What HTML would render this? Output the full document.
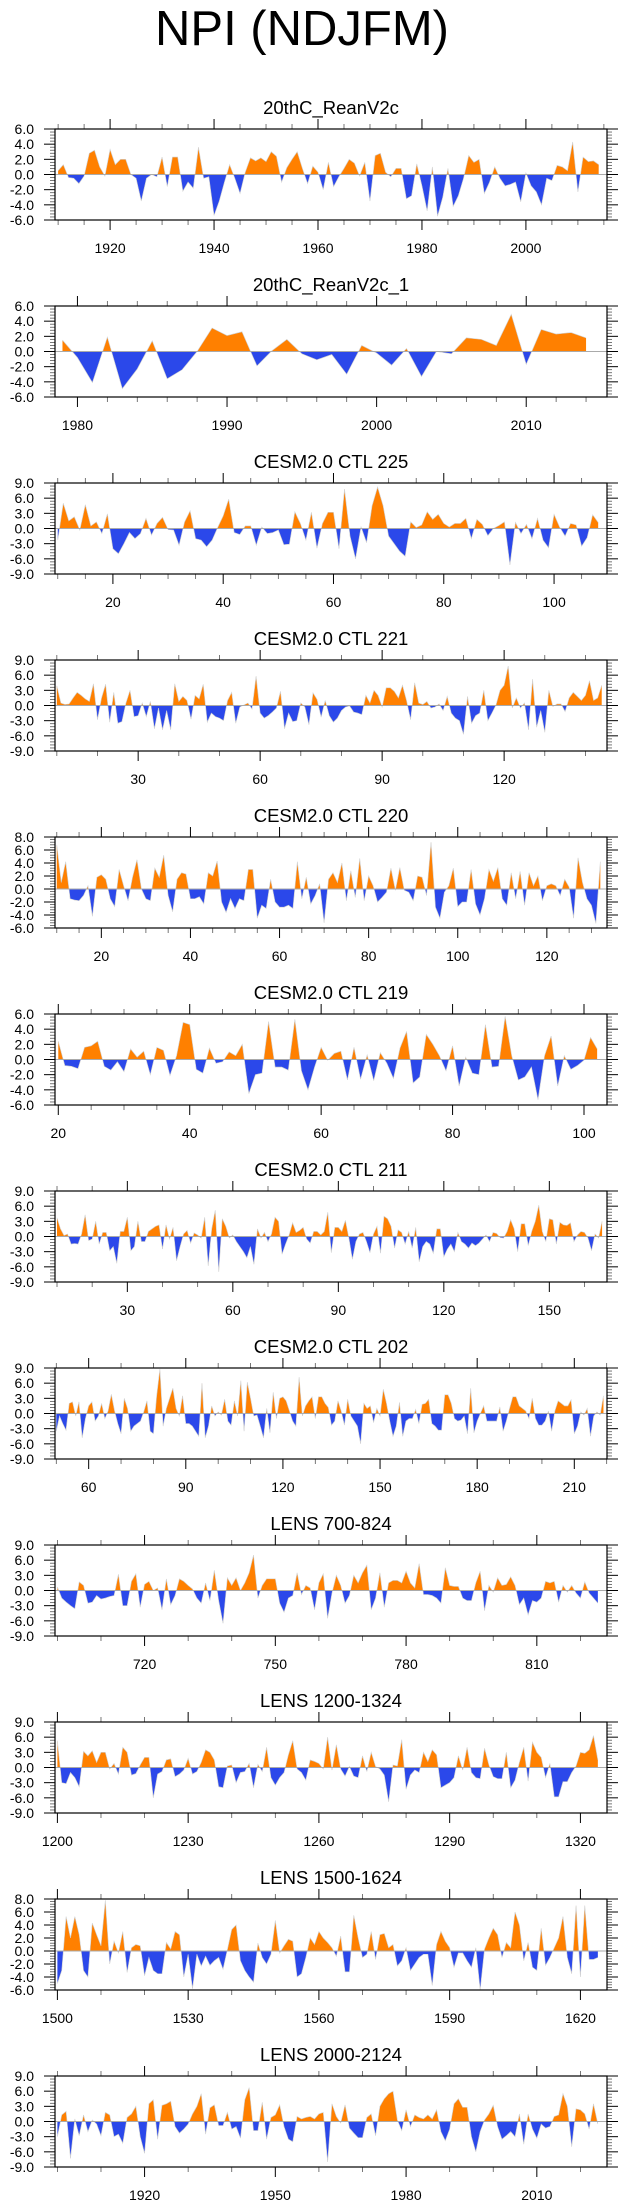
<!DOCTYPE html>
<html><head><meta charset="utf-8"><title>NPI (NDJFM)</title>
<style>
html,body{margin:0;padding:0;background:#fff;}
svg{display:block;font-family:"Liberation Sans",Arial,sans-serif;}
</style></head>
<body>
<svg id="chart" xmlns="http://www.w3.org/2000/svg" width="623" height="2209" viewBox="0 0 623 2209">
<text x="302" y="45" font-size="49" text-anchor="middle" fill="#000">NPI (NDJFM)</text>
</svg>
<script>
// ---- data ----
const reanV2c = [0.5,1.3,-0.4,-0.5,-1.2,-0.2,2.8,3.2,1.0,-0.2,
3.3,1.3,2.0,2.0,0.0,-0.5,-3.5,-0.5,0.0,-0.3,
2.3,-1.6,2.3,2.3,-2.2,-1.0,-1.8,3.6,-0.5,-0.3,
-5.4,-3.5,-1.0,1.3,-0.5,-2.5,0.3,2.2,1.8,2.2,
1.7,3.0,2.4,-1.0,0.9,2.0,3.0,0.8,-1.2,1.1,
0.3,-2.0,1.6,-1.6,-0.3,0.8,2.0,1.5,-0.2,1.6,
-3.5,2.5,2.8,0.3,-0.3,0.8,0.8,-3.2,-2.8,1.4,
-1.5,-4.8,1.0,-5.5,-3.0,0.8,-4.2,-2.8,-0.5,2.5,
1.6,2.0,-2.5,-1.0,1.0,-0.5,-1.5,-1.3,-1.0,-3.6,
0.2,-1.5,-2.3,-4.0,-0.5,-0.8,1.2,1.0,0.5,4.3,
-2.3,2.3,1.7,1.8,1.3];
const reanV2c1 = [1.5,-0.8,-4.1,1.9,-4.9,-2.3,1.4,-3.6,-2.4,0.0,
3.1,2.1,2.6,-1.9,0.1,1.6,-0.3,-1.1,-0.4,-3.0,
0.8,-0.2,-1.8,0.4,-3.3,0.0,-0.3,1.8,1.6,0.8,
4.9,-1.7,2.9,2.3,2.5,1.8];
const ctl225 = [-2.3,5.0,1.5,2.3,-0.3,4.7,0.5,1.3,-1.0,2.9,
-4.0,-5.0,-3.0,-0.8,-2.0,-1.0,2.0,-1.3,1.0,2.2,
-0.2,-0.3,-3.3,1.3,3.5,-2.0,-2.3,-3.6,-2.3,0.2,
2.5,5.8,-0.8,-1.2,0.5,0.5,-3.3,0.3,-1.0,-0.8,
-0.3,-3.2,-3.1,3.3,1.0,-2.3,3.2,-3.9,1.0,3.2,
3.2,-4.0,7.8,-1.5,-6.0,0.3,-2.8,4.5,8.2,4.5,
-1.5,-3.0,-4.5,-5.5,1.3,0.2,0.7,3.3,1.8,2.8,
1.0,0.3,1.0,1.0,2.0,-2.0,1.8,0.8,-1.4,0.0,
0.6,1.3,-7.2,1.2,-1.0,0.8,-2.0,2.0,-2.3,-3.8,
2.8,0.3,-1.5,1.0,0.7,-3.5,-1.8,2.7,1.2];
const ctl221 = [3.9,0.5,0.2,0.3,1.5,2.6,2.0,1.3,0.8,4.3,
-2.8,1.5,4.2,-3.3,2.6,-3.5,-3.2,0.5,3.0,-2.2,
-2.0,0.5,-2.2,0.8,-4.6,-0.5,-4.8,-1.0,-4.8,4.3,
0.8,1.8,1.0,-2.7,2.0,1.3,4.2,-3.3,-1.5,-2.2,
-2.5,-3.0,1.0,2.6,-3.5,-0.3,0.1,0.5,-0.7,5.8,
-1.5,-2.5,-2.0,-1.3,-0.5,2.8,-4.6,-1.5,-3.2,-3.0,
0.5,-0.3,-3.8,2.5,1.2,-2.3,1.0,-2.0,-3.3,-2.5,
-1.0,-0.3,-0.1,-1.3,-1.5,-1.8,2.0,0.5,3.0,2.0,
-0.3,3.5,3.5,2.8,1.5,4.0,1.0,-2.8,4.5,0.5,
0.2,0.8,-0.5,-0.3,0.3,-1.0,1.8,-1.5,-2.5,-3.0,
-5.7,1.8,-3.5,-2.0,-1.5,3.0,-3.0,-1.5,0.1,3.0,
4.0,7.8,-0.5,1.5,-0.5,0.5,-4.8,5.2,-4.3,-1.0,
-5.3,3.0,-0.2,0.3,0.3,-1.2,1.5,2.6,1.8,1.0,
2.0,4.9,1.0,1.5,4.0];
const ctl220 = [6.8,1.0,4.2,-1.5,-1.7,-1.8,-1.0,0.5,-4.2,1.8,
2.2,1.5,-1.5,-2.7,3.0,0.5,-1.8,1.8,4.5,0.0,
-1.5,-1.8,3.2,1.8,5.2,-1.0,-3.5,1.5,2.5,2.3,
-1.5,-1.5,-1.2,-2.3,2.5,2.0,4.3,-2.0,-3.6,-1.5,
-3.0,-1.5,-1.8,3.0,3.0,-4.5,-2.5,-3.0,1.5,-2.0,
-2.8,-2.8,-2.5,-3.0,4.2,-1.5,1.8,-2.3,-1.0,0.8,
-5.2,1.5,2.5,1.0,4.0,-1.8,2.8,-1.3,4.7,-1.8,
2.0,0.5,-2.0,-1.3,-0.5,3.2,-0.2,3.3,-0.2,-0.5,
-1.8,2.0,1.8,-1.0,7.2,-2.8,-4.5,-0.5,0.5,3.2,
-2.7,-2.0,-2.0,3.0,-2.3,-4.0,-1.5,3.0,1.2,3.3,
-1.5,-2.5,2.5,-1.5,2.7,-2.5,2.5,0.5,2.0,-1.8,
0.5,0.8,0.5,-1.0,1.5,0.3,-4.5,4.8,1.0,-1.5,
-2.5,-5.3,4.2];
const ctl219 = [2.4,-0.8,-0.9,-1.2,1.6,1.8,2.4,-0.9,-1.4,-0.3,
-1.6,1.4,0.3,1.1,-2.0,1.6,1.2,-2.1,0.5,4.9,
4.6,-1.3,-1.8,1.5,-0.5,-0.3,1.0,0.5,2.0,-4.5,
-2.0,-1.8,5.0,-1.0,-1.0,-1.4,5.3,-1.5,-4.0,-1.0,
1.6,-0.1,0.8,1.1,-2.7,1.6,-2.6,0.6,-2.8,0.9,
-0.5,-2.5,1.5,3.7,-3.1,-2.3,3.3,2.0,0.5,-1.5,
1.8,-3.5,0.3,-1.8,-2.0,4.6,-1.0,-0.9,5.7,0.5,
-2.7,-2.3,-1.0,-5.3,0.5,3.1,-3.5,0.5,-1.3,-0.8,
-0.1,2.9,1.4];
const ctl211 = [3.7,1.5,0.2,0.5,-1.5,-1.4,-1.5,0.5,4.3,-0.8,
-0.5,3.0,-1.5,0.8,0.8,-2.8,-2.0,-5.3,1.0,1.0,
3.8,-2.8,-2.0,3.0,-1.0,-1.0,1.0,1.5,2.0,2.3,
-2.5,2.3,-0.5,1.8,-4.8,-2.0,0.5,1.2,-1.3,0.7,
0.3,-0.3,3.8,-5.8,1.5,5.2,-7.0,3.5,2.0,-0.3,
0.3,-1.0,-2.0,-3.0,-4.2,-2.0,-5.5,1.5,-0.3,0.8,
-1.0,0.5,3.8,3.0,-3.5,-1.5,0.3,2.7,0.8,1.2,
1.8,-0.5,-1.3,1.0,1.0,0.3,1.0,4.8,-3.2,1.8,
1.8,1.0,3.2,-0.3,-4.5,-1.0,0.5,0.8,-1.0,-3.2,
0.5,2.0,-3.3,4.0,3.5,2.0,-2.3,1.3,0.8,-1.5,
1.0,-2.3,1.8,-5.0,-2.0,-1.0,-1.5,-3.3,1.5,1.5,
-4.0,-2.5,-1.5,-3.0,0.8,-1.0,-1.5,-2.3,-1.3,-1.8,
-1.3,-0.5,0.3,-1.0,0.8,0.6,-0.2,-0.3,1.0,3.3,
1.5,-3.0,2.5,2.5,-1.8,1.0,3.0,6.2,1.0,-1.0,
3.5,3.3,-1.5,2.8,2.3,2.2,2.7,-1.0,0.3,1.0,
0.8,-0.3,-2.8,0.5,-0.3,3.0];
const ctl202 = [-3.5,-0.5,-2.0,-3.3,2.0,2.3,-0.5,2.3,-4.8,-1.0,
1.5,2.3,-1.5,-0.5,2.0,-1.0,0.5,3.8,0.5,-2.0,
-4.0,3.0,1.0,-3.5,-2.5,-2.0,-1.5,0.3,2.5,-3.5,
-4.0,3.5,8.8,-2.5,1.0,3.0,5.0,1.0,-0.5,3.5,
-2.0,-2.0,-2.5,-3.5,-4.5,6.0,-4.8,-2.5,1.5,-0.5,
0.3,-0.3,2.8,-1.5,-2.3,2.5,-0.5,6.5,-3.5,6.2,
3.0,-0.5,-0.3,-2.5,-4.8,1.0,-3.8,4.2,-1.0,3.0,
3.3,2.5,0.5,-1.5,-2.5,7.2,-0.5,1.5,2.5,3.3,
-1.0,3.3,3.3,2.0,1.2,-2.3,-1.5,2.5,0.5,-2.3,
2.8,-0.5,-1.5,-2.5,-6.0,2.0,1.0,1.5,-1.8,1.0,
-0.5,4.8,2.0,-1.5,-4.5,-2.5,2.2,-4.5,-1.5,-1.0,
-1.0,0.8,-2.0,1.8,2.0,2.8,-2.0,-2.5,-3.3,-3.3,
3.7,3.7,2.0,-1.0,-1.5,-1.3,-0.5,-4.0,5.0,-3.8,
-1.5,0.0,1.5,-1.5,-1.5,-1.5,-1.5,1.3,-3.5,-1.5,
1.0,3.3,3.3,1.5,1.0,0.5,-1.0,3.0,-1.0,-2.3,
-2.3,-1.5,0.5,-3.5,0.5,2.5,2.0,1.5,1.5,2.7,
-4.0,-2.5,0.3,-0.3,1.0,-4.5,-0.5,0.3,-0.3,3.5];
const lens700 = [0.7,-1.5,-2.3,-3.0,-3.6,1.7,1.0,-2.5,-2.3,-1.0,
-1.7,-1.5,-1.2,-1.0,3.2,-3.0,-3.0,1.8,3.3,-3.3,
1.2,1.8,0.0,0.5,-3.8,2.3,-2.8,-1.0,2.3,1.8,
1.0,0.3,-1.5,-2.5,1.5,-2.0,4.0,-2.0,-6.5,2.5,
1.0,2.5,0.0,1.5,3.5,7.0,-1.5,1.0,2.3,2.3,
2.3,-2.5,-4.3,-1.5,-1.0,3.5,-0.8,1.0,0.5,-3.8,
1.5,3.3,-5.5,-0.5,3.0,1.0,-2.5,-1.0,3.0,1.5,
3.5,5.0,-3.8,-1.5,3.5,-3.3,1.5,2.0,2.0,1.5,
3.8,1.5,0.5,5.3,-0.8,-0.8,-1.0,-1.5,-2.5,4.5,
1.0,0.8,0.8,-1.5,-2.0,-2.0,1.5,3.8,-4.0,1.0,
-0.3,2.5,1.0,1.2,2.7,1.0,-2.8,-1.5,-4.8,-2.0,
-2.3,-1.5,1.8,1.5,1.8,-2.3,1.0,-0.3,1.0,-0.5,
-1.5,1.7,-0.5,-1.5,-2.5];
const lens1200 = [5.3,-3.0,-3.2,-1.0,-2.0,-3.8,3.2,2.3,3.3,1.0,
3.0,3.0,-0.3,0.8,-1.3,4.0,3.0,-1.5,-1.2,0.5,
2.0,2.0,-6.0,-1.3,-0.8,1.5,1.7,-1.8,-1.3,-0.5,
1.8,-1.3,-0.8,1.0,3.5,3.0,1.5,-3.8,-4.0,0.3,
0.5,-3.0,-1.0,-0.8,0.8,-4.0,0.6,-0.8,4.0,-2.0,
-3.5,-2.0,-1.0,2.5,5.3,-0.3,-1.0,-2.5,1.5,1.2,
0.8,-0.3,6.0,-0.5,4.5,-0.3,-1.7,0.2,-1.7,-2.0,
2.3,-0.8,3.0,0.2,-0.3,-1.5,-6.8,0.5,0.3,5.5,
-4.3,-1.5,-0.5,-1.0,3.0,1.2,3.5,2.5,-4.0,-3.5,
-3.0,-2.0,2.3,-0.5,4.0,-1.0,-2.0,-2.2,3.8,0.5,
-1.8,-2.2,-2.2,3.0,-4.0,-2.5,1.0,4.0,-2.7,5.0,
3.0,2.0,-2.0,0.8,-5.8,-5.8,-2.8,-2.8,-1.0,0.3,
3.0,2.8,3.5,6.3,1.5];
const lens1500 = [-5.0,-3.0,5.3,2.0,5.3,2.5,-3.0,-4.0,4.3,2.5,
0.8,7.8,-2.0,1.5,-0.3,3.0,-3.3,0.5,1.0,0.8,
-3.8,-1.0,-3.0,-3.5,-3.5,1.3,0.3,3.0,2.5,-4.0,
-0.5,-5.8,-0.5,-2.3,-0.8,-2.2,-1.5,-1.0,-2.8,0.2,
3.3,4.0,-1.5,-3.0,-4.0,-4.8,1.2,-1.0,-2.0,-0.5,
4.7,-0.3,0.8,1.8,1.5,-4.0,-3.5,-1.0,2.0,1.0,
3.0,2.0,1.3,0.5,-0.8,2.3,-3.2,-3.2,5.5,2.0,
-1.0,-0.5,3.0,-1.3,2.5,2.7,0.5,1.0,-2.3,-1.5,
0.5,-3.0,-2.0,-1.0,-0.5,-0.5,-5.3,1.0,3.0,1.5,
0.5,-2.5,-0.3,-0.3,-1.5,-2.5,0.5,-6.0,0.3,2.0,
3.5,2.5,-1.0,1.3,0.5,6.0,4.0,-1.5,1.3,-2.5,
-3.0,3.5,-2.2,-1.0,0.5,2.0,5.3,-1.0,-3.5,7.0,
-4.0,7.0,-1.3,-1.3,-1.0];
const lens2000 = [-3.0,1.3,2.0,-7.3,0.5,-2.8,1.3,-2.0,0.3,-0.5,
-2.8,1.8,1.3,-3.0,-2.5,-4.3,0.8,1.5,3.0,-3.0,
-6.3,3.5,4.3,-3.5,3.2,3.5,4.0,-1.0,-2.3,-1.5,
-0.5,1.5,3.0,5.5,-2.5,2.7,3.3,-0.8,-0.8,1.8,
-1.5,-1.0,-3.3,4.3,6.7,-1.8,-1.8,3.8,-3.5,0.8,
1.3,3.3,-1.0,-3.5,-4.0,1.0,0.5,0.8,1.0,0.5,
1.5,1.8,-8.0,3.5,1.0,-0.3,3.3,-1.3,-2.3,-3.2,
-3.2,0.8,1.5,-2.8,3.0,4.5,5.5,6.0,0.3,-1.8,
2.3,-1.0,1.3,0.8,0.5,1.3,0.5,2.3,-2.0,-3.8,
-1.5,3.5,4.5,2.8,2.8,-3.0,-6.0,-2.0,0.3,1.5,
3.2,-1.0,-3.5,-2.8,-2.0,-3.0,1.5,-4.5,1.5,-1.5,
-3.3,-0.5,-1.3,-1.0,1.0,1.3,5.5,3.0,-5.0,2.5,
2.3,1.5,-1.5,3.5,-0.5];

const titles = ["20thC_ReanV2c","20thC_ReanV2c_1","CESM2.0 CTL 225","CESM2.0 CTL 221","CESM2.0 CTL 220","CESM2.0 CTL 219","CESM2.0 CTL 211","CESM2.0 CTL 202","LENS 700-824","LENS 1200-1324","LENS 1500-1624","LENS 2000-2124"];
const series = [reanV2c,reanV2c1,ctl225,ctl221,ctl220,ctl219,ctl211,ctl202,lens700,lens1200,lens1500,lens2000];
const startYears = [1910,1979,10,10,10,20,10,50,700,1200,1500,1900];

// ---- layout (not data) ----
const xDomains = [[1909.4,2015.6],[1978.5,2015.4],[9.5,109.6],[9.55,145.3],[9.6,133.5],[19.5,103.5],[9.43,166.4],[49.6,220.1],[699.45,826.1],[1199.45,1326.1],[1499.45,1626.1],[1899.45,2026.1]];
const yDomains = [[-6,6,2],[-6,6,2],[-9,9,3],[-9,9,3],[-6,8,2],[-6,6,2],[-9,9,3],[-9,9,3],[-9,9,3],[-9,9,3],[-6,8,2],[-9,9,3]];
const xTickSteps = [[20,5],[10,2],[20,5],[30,10],[20,5],[20,5],[30,10],[30,10],[30,10],[30,10],[30,10],[30,10]];

const NS="http://www.w3.org/2000/svg";
const svg=document.getElementById('chart');
const L=55,R=607,H=91;
function mk(tag,attrs,parent){const e=document.createElementNS(NS,tag);for(const k in attrs)e.setAttribute(k,attrs[k]);(parent||svg).appendChild(e);return e;}

series.forEach((data,i)=>{
  const T=129+177*i, B=T+H;
  const [x0,x1]=xDomains[i]; const [y0,y1,ys]=yDomains[i];
  const xs=v=>L+(v-x0)/(x1-x0)*(R-L);
  const yp=v=>B-(v-y0)/(y1-y0)*H;
  const g=mk('g',{});
  
  
  const t=mk('text',{x:(L+R)/2,y:T-15,'font-size':18.5,'text-anchor':'middle',fill:'#000'},g);
  t.textContent=titles[i];
  
  
  // clip paths
  const z=yp(0);
  const cpA=mk('clipPath',{id:'ca'+i},g); mk('rect',{x:L,y:T,width:R-L,height:z-T},cpA);
  const cpB=mk('clipPath',{id:'cb'+i},g); mk('rect',{x:L,y:z,width:R-L,height:B-z},cpB);
  let d='',ld='';
  data.forEach((v,k)=>{const px=xs(startYears[i]+k).toFixed(2),py=yp(v).toFixed(2);d+=(k?'L':'M')+px+','+py;});
  ld=d;
  const xe=xs(startYears[i]+data.length-1).toFixed(2), xb=xs(startYears[i]).toFixed(2);
  d+='L'+xe+','+z.toFixed(2)+'L'+xb+','+z.toFixed(2)+'Z';
  const pa=mk('path',{d:d,fill:'#ff8000','clip-path':'url(#ca'+i+')'},g);
  
  
  const pb=mk('path',{d:d,fill:'#2b48ea','clip-path':'url(#cb'+i+')'},g);
  
  
  mk('path',{d:ld,fill:'none',stroke:'#d0d0d0','stroke-width':0.6},g);
  const zl=mk('line',{x1:L,x2:R,y1:z,y2:z,stroke:'#aaa','stroke-width':1},g);
  
  
  // y ticks
  const nsub=5;
  for(let v=y0;v<=y1+1e-9;v+=ys){
    const y=yp(v);
    mk('line',{x1:L-11,x2:L,y1:y,y2:y,stroke:'#000','stroke-width':1},g);
    mk('line',{x1:R,x2:R+11,y1:y,y2:y,stroke:'#000','stroke-width':1},g);
    const lb=mk('text',{x:34,y:y+5,'font-size':14,'text-anchor':'end',fill:'#000'},g);
    lb.textContent=v.toFixed(1);
    
    
    if(v<y1-1e-9){for(let s=1;s<nsub;s++){const yy=yp(v+ys*s/nsub);
      mk('line',{x1:L-5,x2:L,y1:yy,y2:yy,stroke:'#555','stroke-width':0.8},g);
      mk('line',{x1:R,x2:R+5,y1:yy,y2:yy,stroke:'#555','stroke-width':0.8},g);}}
  }
  // x ticks
  const [maj,mnr]=xTickSteps[i];
  for(let v=Math.ceil(x0/mnr)*mnr;v<=x1;v+=mnr){
    const x=xs(v); const isMaj=Math.abs(v/maj-Math.round(v/maj))<1e-6;
    const len=isMaj?10:5;
    mk('line',{x1:x,x2:x,y1:T-len,y2:T,stroke:isMaj?'#000':'#555','stroke-width':isMaj?1:0.8},g);
    mk('line',{x1:x,x2:x,y1:B,y2:B+len,stroke:isMaj?'#000':'#555','stroke-width':isMaj?1:0.8},g);
    if(isMaj){const lb=mk('text',{x:x,y:T+124,'font-size':14,'text-anchor':'middle',fill:'#000'},g);
      lb.textContent=String(v);
      
      }
  }
  const fr=mk('rect',{x:L,y:T,width:R-L,height:H,fill:'none',stroke:'#000','stroke-width':1.2},g);
  
  
});
</script>
</body></html>
